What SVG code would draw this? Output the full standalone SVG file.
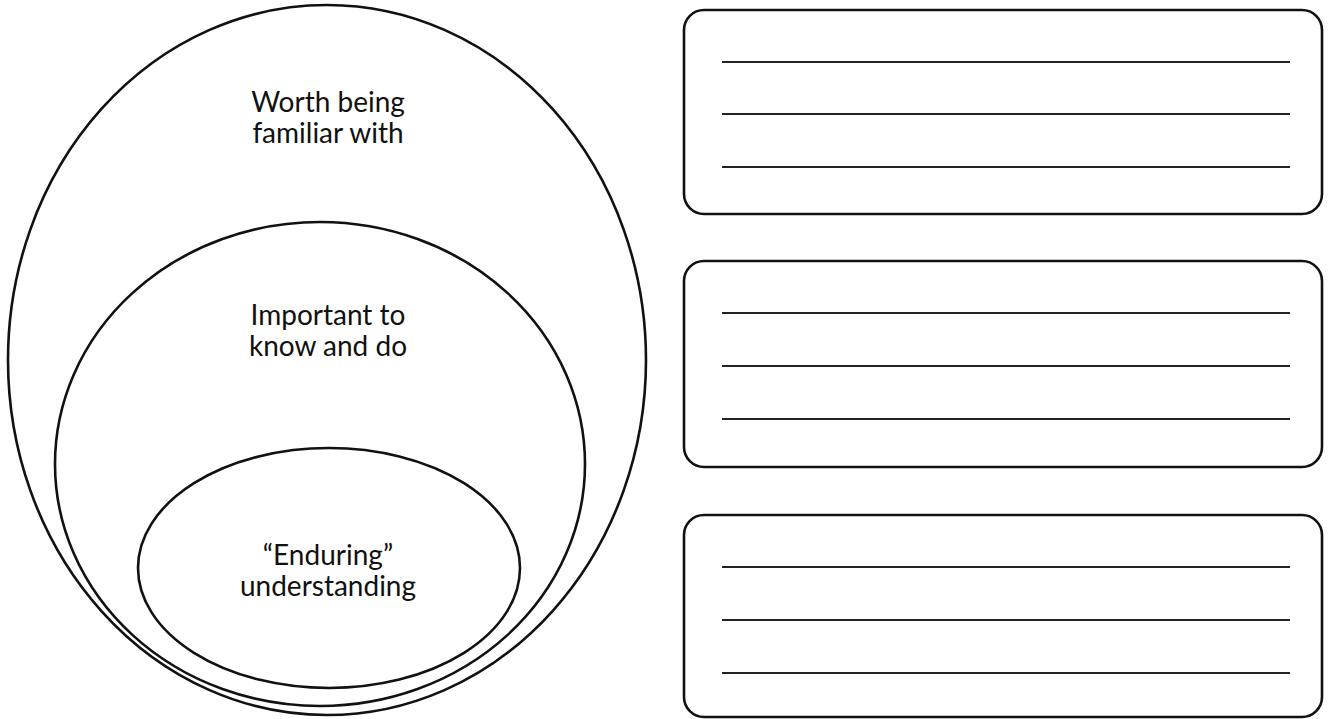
<svg xmlns="http://www.w3.org/2000/svg" width="1328" height="719" viewBox="0 0 1328 719">
<style>
.sh{fill:none;stroke:#111;stroke-width:2.6}
.bx{fill:none;stroke:#111;stroke-width:2.6}
.ln{stroke:#222;stroke-width:2}
.t{font-family:Lato,"Noto Sans",sans-serif;font-size:28px;fill:#111;text-anchor:middle}
</style>
<rect width="1328" height="719" fill="#fff"/>
<g id="outer">
<ellipse class="sh" cx="327" cy="360" rx="319" ry="355"/>
<text class="t" x="328" y="112">Worth being</text>
<text class="t" x="328" y="143">familiar with</text>
</g>
<g id="middle">
<ellipse class="sh" cx="320" cy="464" rx="265" ry="242"/>
<text class="t" x="328" y="325">Important to</text>
<text class="t" x="328" y="356">know and do</text>
</g>
<g id="inner">
<ellipse class="sh" cx="329" cy="568" rx="191" ry="120"/>
<text class="t" x="328" y="565">“Enduring”</text>
<text class="t" x="328" y="596">understanding</text>
</g>
<g id="box1">
<rect class="bx" x="684" y="10" width="638" height="204" rx="20"/>
<line class="ln" x1="722" y1="62" x2="1290" y2="62"/>
<line class="ln" x1="722" y1="114" x2="1290" y2="114"/>
<line class="ln" x1="722" y1="167" x2="1290" y2="167"/>
</g>
<g id="box2">
<rect class="bx" x="684" y="261" width="638" height="206" rx="20"/>
<line class="ln" x1="722" y1="313" x2="1290" y2="313"/>
<line class="ln" x1="722" y1="366" x2="1290" y2="366"/>
<line class="ln" x1="722" y1="419" x2="1290" y2="419"/>
</g>
<g id="box3">
<rect class="bx" x="684" y="515" width="638" height="202" rx="20"/>
<line class="ln" x1="722" y1="567" x2="1290" y2="567"/>
<line class="ln" x1="722" y1="620" x2="1290" y2="620"/>
<line class="ln" x1="722" y1="673" x2="1290" y2="673"/>
</g>
<g id="connectors"></g>
</svg>
